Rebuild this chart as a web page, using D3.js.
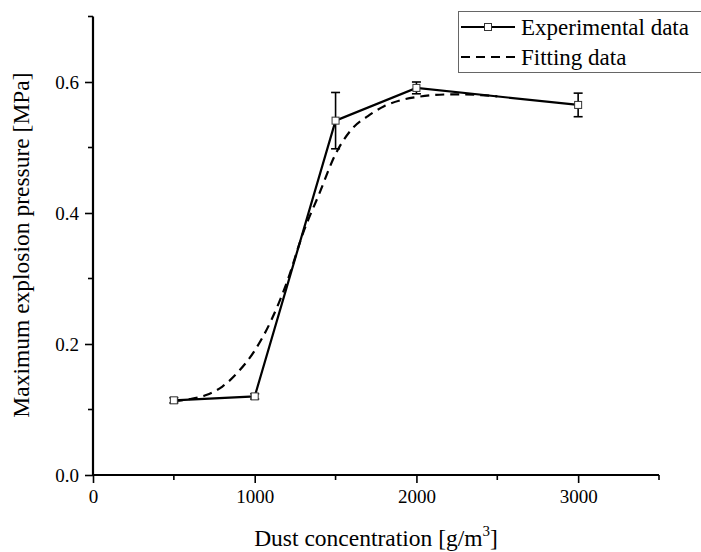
<!DOCTYPE html>
<html><head><meta charset="utf-8">
<script src="https://cdn.jsdelivr.net/npm/d3@7"></script>
<style>body{margin:0;background:#fff}svg{display:block}text{font-family:"Liberation Serif","Times New Roman",serif;fill:#000}</style>
</head><body>
<script>
const expX = [500, 1000, 1500, 2000, 3000];
const expY = [0.114, 0.120, 0.541, 0.591, 0.565];
const expErr = [0.004, 0.004, 0.043, 0.009, 0.018];
const fitX = [500, 600, 700, 800, 900, 1000, 1100, 1200, 1300, 1400, 1500, 1600, 1700, 1800, 1900, 2000, 2100, 2200, 2300, 2400, 2500];
const fitY = [0.113, 0.116, 0.122, 0.135, 0.158, 0.19, 0.235, 0.295, 0.37, 0.43, 0.49, 0.528, 0.548, 0.563, 0.572, 0.577, 0.580, 0.581, 0.581, 0.580, 0.578];
const xTicks = [0, 1000, 2000, 3000];
const xMinor = [500, 1500, 2500, 3500];
const yTicks = [0.0, 0.2, 0.4, 0.6];
const yMinor = [0.1, 0.3, 0.5, 0.7];
const legendLabels = ["Experimental data", "Fitting data"];

const W = 701, H = 552;
const svg = d3.select("body").append("svg").attr("width", W).attr("height", H);
const x = d3.scaleLinear().domain([0, 3500]).range([93, 659]);
const y = d3.scaleLinear().domain([0, 0.7]).range([475, 16.5]);

// axes
const xAxis = d3.axisBottom(x).tickValues(xTicks).tickSize(8).tickFormat(d3.format("d")).tickPadding(7);
const gx = svg.append("g").attr("transform", `translate(0,${y(0)})`).call(xAxis);
gx.select(".domain").attr("stroke-width", 2.2).attr("d", `M${x(0)},0H${x(3500)}`);
gx.selectAll(".tick line").attr("stroke-width", 1.6);
gx.selectAll(".tick text").style("font-size", "19px").style("font-family", "Liberation Serif");
gx.selectAll(".minor").data(xMinor).enter().append("line")
  .attr("x1", d => x(d)).attr("x2", d => x(d)).attr("y1", 0).attr("y2", 5)
  .attr("stroke", "#000").attr("stroke-width", 1.6);

const yAxis = d3.axisLeft(y).tickValues(yTicks).tickSize(8).tickFormat(d3.format(".1f")).tickPadding(6);
const gy = svg.append("g").attr("transform", `translate(${x(0)},0)`).call(yAxis);
gy.select(".domain").attr("stroke-width", 2.2).attr("d", `M0,${y(0)}V${y(0.7)}`);
gy.selectAll(".tick line").attr("stroke-width", 1.6);
gy.selectAll(".tick text").style("font-size", "19px").style("font-family", "Liberation Serif");
gy.selectAll(".minor").data(yMinor).enter().append("line")
  .attr("y1", d => y(d)).attr("y2", d => y(d)).attr("x1", 0).attr("x2", -5)
  .attr("stroke", "#000").attr("stroke-width", 1.6);

// fit curve
const fitData = fitX.map((v, i) => [v, fitY[i]]);
svg.append("path").datum(fitData)
  .attr("d", d3.line().x(d => x(d[0])).y(d => y(d[1])).curve(d3.curveMonotoneX))
  .attr("fill", "none").attr("stroke", "#000").attr("stroke-width", 2.2).attr("stroke-dasharray", "9,6");

// experimental line
const expData = expX.map((v, i) => [v, expY[i], expErr[i]]);
svg.append("path").datum(expData)
  .attr("d", d3.line().x(d => x(d[0])).y(d => y(d[1])))
  .attr("fill", "none").attr("stroke", "#000").attr("stroke-width", 2.2);

// error bars
const eb = svg.append("g").attr("stroke", "#000").attr("stroke-width", 1.6);
expData.forEach(d => {
  const cx = x(d[0]), t = y(d[1] + d[2]), b = y(d[1] - d[2]);
  eb.append("line").attr("x1", cx).attr("x2", cx).attr("y1", t).attr("y2", b);
  eb.append("line").attr("x1", cx - 4.5).attr("x2", cx + 4.5).attr("y1", t).attr("y2", t);
  eb.append("line").attr("x1", cx - 4.5).attr("x2", cx + 4.5).attr("y1", b).attr("y2", b);
});
// markers
svg.append("g").selectAll("rect").data(expData).enter().append("rect")
  .attr("x", d => x(d[0]) - 3.5).attr("y", d => y(d[1]) - 3.5)
  .attr("width", 7).attr("height", 7).attr("fill", "#fff").attr("stroke", "#333").attr("stroke-width", 1);

// legend
const lg = svg.append("g");
lg.append("rect").attr("x", 458.5).attr("y", 11.5).attr("width", 250).attr("height", 61)
  .attr("fill", "#fff").attr("stroke", "#666").attr("stroke-width", 1);
lg.append("line").attr("x1", 461).attr("x2", 515).attr("y1", 27).attr("y2", 27).attr("stroke", "#000").attr("stroke-width", 2.2);
lg.append("rect").attr("x", 484.5).attr("y", 23.5).attr("width", 7).attr("height", 7).attr("fill", "#fff").attr("stroke", "#333");
lg.append("line").attr("x1", 461).attr("x2", 515).attr("y1", 57).attr("y2", 57).attr("stroke", "#000").attr("stroke-width", 2.2).attr("stroke-dasharray", "9,6");
lg.selectAll("text").data(legendLabels).enter().append("text")
  .attr("x", 521).attr("y", (d, i) => 35 + i * 30).style("font-size", "23px").text(d => d);

// axis titles
const xt = svg.append("text").attr("x", 376).attr("y", 546).attr("text-anchor", "middle").style("font-size", "23.5px");
xt.append("tspan").text("Dust concentration [g/m");
xt.append("tspan").attr("dy", -10).style("font-size", "15px").text("3");
xt.append("tspan").attr("dy", 10).text("]");
svg.append("text").attr("transform", "translate(29,245) rotate(-90)").attr("text-anchor", "middle")
  .style("font-size", "23.5px").text("Maximum explosion pressure [MPa]");
</script>
</body></html>
